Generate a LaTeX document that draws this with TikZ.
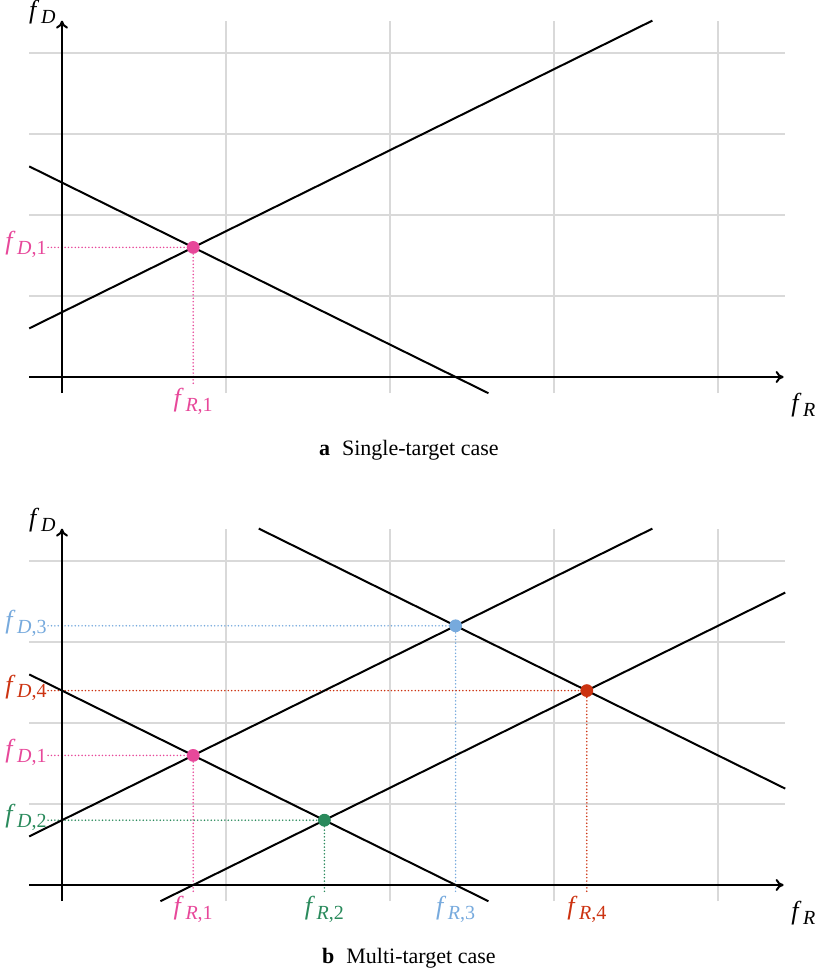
\documentclass[tikz,border=0pt]{standalone}
\usepackage{fontspec}
\setmainfont{Liberation Serif}
\usetikzlibrary{arrows.meta}
\definecolor{cpink}{HTML}{E7489A}
\definecolor{cgreen}{HTML}{2A8A5C}
\definecolor{cblue}{HTML}{77AADD}
\definecolor{cred}{HTML}{CC3311}
\definecolor{gridc}{gray}{0.85}
\newcommand\fv[2]{\textit{f}\kern0.8pt\raisebox{-2.4pt}{\fontsize{10}{11}\selectfont\textit{#1}#2}}
\begin{document}
\begin{tikzpicture}[x=41pt,y=40.5pt,
  gridline/.style={gridc, line width=0.6pt},
  axisline/.style={line width=1pt,-{To[length=4pt,width=6pt]}},
  fline/.style={line width=1pt, black},
  guide/.style={line width=0.85pt, line cap=round, dash pattern=on 0pt off 1.7pt},
  dotpt/.style={circle, fill=#1, inner sep=0pt, minimum size=6.4pt},
  dlab/.style={text=#1, anchor=base east, inner xsep=0.5pt, inner ysep=0pt, yshift=-1.2pt, font=\fontsize{13}{15}\selectfont},
  rlab/.style={text=#1, anchor=base, inner sep=2.5pt, font=\fontsize{13}{15}\selectfont},
  alab/.style={font=\fontsize{13}{15}\selectfont, inner sep=0pt},
  capt/.style={anchor=base, font=\fontsize{11}{13}\selectfont}
]
\path[use as bounding box] (-31pt,188.5pt) rectangle (376.5pt,-298pt);

% ---------------- top plot ----------------
\begin{scope}
  \foreach \y in {1,2,3,4} \draw[gridline] (-0.4,\y) -- (8.82,\y);
  \foreach \x in {2,4,6,8} \draw[gridline] (\x,-0.2) -- (\x,4.4);
  \coordinate (a1) at (1.6,1.6);
  \node[dlab=cpink] (aD1) at (-0.17,1.6) {\fv{D}{,1}};
  \node[rlab=cpink] (aR1) at (1.6,-0.37) {\fv{R}{,1}};
  \draw[guide,cpink] (aD1.east |- a1) -- (a1);
  \draw[guide,cpink] (aR1.north) -- (a1);
  \coordinate (ax0) at (-0.4,0);
  \coordinate (ax1) at (8.8,0);
  \coordinate (ay0) at (0,-0.2);
  \coordinate (ay1) at (0,4.4);
  \draw[axisline] (ax0) -- (ax1);
  \draw[axisline] (ay0) -- (ay1);
  \coordinate (la0) at (-0.4,0.6);
  \coordinate (la1) at (7.2,4.4);
  \coordinate (lb0) at (-0.4,2.6);
  \coordinate (lb1) at (5.2,-0.2);
  \draw[fline] (la0) -- (la1);
  \draw[fline] (lb0) -- (lb1);
  \node[dotpt=cpink] (a1dot) at (a1) {};
  \node[alab] (aFD) at (-0.24,4.5) {\fv{D}{}};
  \node[alab] (aFR) at (9.04,-0.35) {\fv{R}{}};
  \node[capt] (capA) at (4.23,-0.975) {\textbf{a}\hspace{6pt}Single-target case};
\end{scope}

% ---------------- bottom plot ----------------
\begin{scope}[yshift=-254pt]
  \foreach \y in {1,2,3,4} \draw[gridline] (-0.4,\y) -- (8.82,\y);
  \foreach \x in {2,4,6,8} \draw[gridline] (\x,-0.2) -- (\x,4.4);
  \coordinate (b1) at (1.6,1.6);
  \coordinate (b2) at (3.2,0.8);
  \coordinate (b3) at (4.8,3.2);
  \coordinate (b4) at (6.4,2.4);
  \node[dlab=cpink]  (bD1) at (-0.17,1.6) {\fv{D}{,1}};
  \node[dlab=cgreen] (bD2) at (-0.17,0.8) {\fv{D}{,2}};
  \node[dlab=cblue]  (bD3) at (-0.17,3.2) {\fv{D}{,3}};
  \node[dlab=cred]   (bD4) at (-0.17,2.4) {\fv{D}{,4}};
  \node[rlab=cpink]  (bR1) at (1.6,-0.37) {\fv{R}{,1}};
  \node[rlab=cgreen] (bR2) at (3.2,-0.37) {\fv{R}{,2}};
  \node[rlab=cblue]  (bR3) at (4.8,-0.37) {\fv{R}{,3}};
  \node[rlab=cred]   (bR4) at (6.4,-0.37) {\fv{R}{,4}};
  \draw[guide,cblue]  (bD3.east |- b3) -- (b3);
  \draw[guide,cblue]  (bR3.north) -- (b3);
  \draw[guide,cpink]  (bD1.east |- b1) -- (b1);
  \draw[guide,cpink]  (bR1.north) -- (b1);
  \draw[guide,cgreen] (bD2.east |- b2) -- (b2);
  \draw[guide,cgreen] (bR2.north) -- (b2);
  \draw[guide,cred]   (bD4.east |- b4) -- (b4);
  \draw[guide,cred]   (bR4.north) -- (b4);
  \coordinate (bx0) at (-0.4,0);
  \coordinate (bx1) at (8.8,0);
  \coordinate (by0) at (0,-0.2);
  \coordinate (by1) at (0,4.4);
  \draw[axisline] (bx0) -- (bx1);
  \draw[axisline] (by0) -- (by1);
  \coordinate (ma0) at (-0.4,0.6);
  \coordinate (ma1) at (7.2,4.4);
  \coordinate (mb0) at (-0.4,2.6);
  \coordinate (mb1) at (5.2,-0.2);
  \coordinate (mc0) at (1.2,-0.2);
  \coordinate (mc1) at (8.82,3.61);
  \coordinate (md0) at (2.4,4.4);
  \coordinate (md1) at (8.82,1.19);
  \draw[fline] (ma0) -- (ma1);
  \draw[fline] (mb0) -- (mb1);
  \draw[fline] (mc0) -- (mc1);
  \draw[fline] (md0) -- (md1);
  \node[dotpt=cpink]  (b1dot) at (b1) {};
  \node[dotpt=cgreen] (b2dot) at (b2) {};
  \node[dotpt=cblue]  (b3dot) at (b3) {};
  \node[dotpt=cred]   (b4dot) at (b4) {};
  \node[alab] (bFD) at (-0.24,4.5) {\fv{D}{}};
  \node[alab] (bFR) at (9.04,-0.35) {\fv{R}{}};
  \node[capt] (capB) at (4.23,-0.975) {\textbf{b}\hspace{6pt}Multi-target case};
\end{scope}
\end{tikzpicture}
\end{document}
